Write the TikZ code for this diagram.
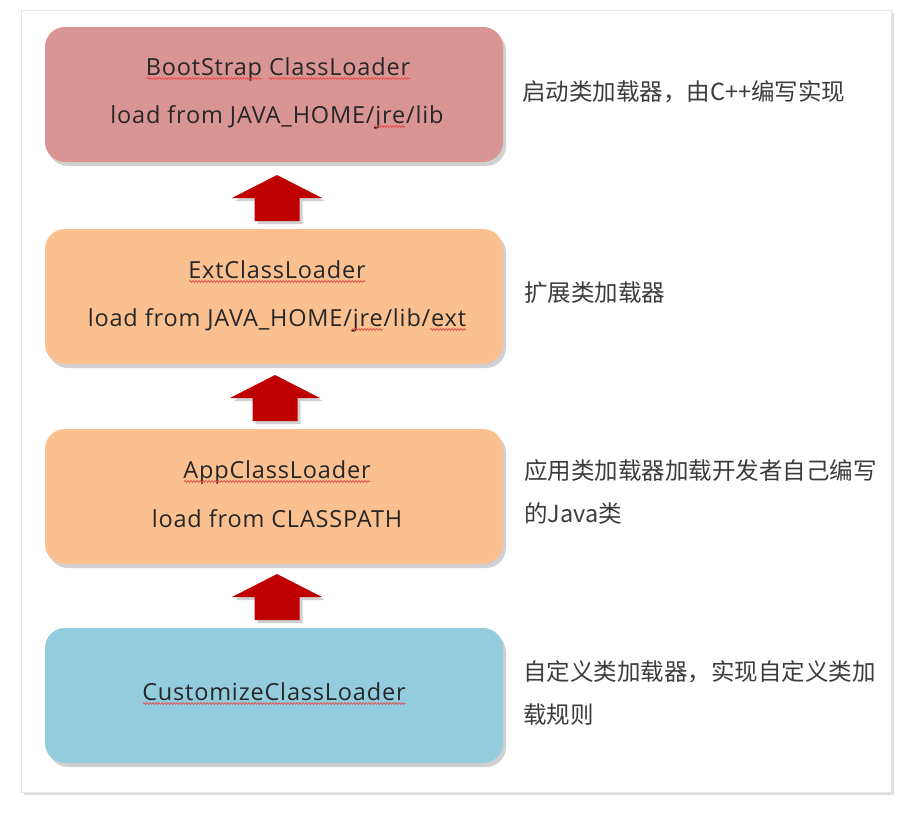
\documentclass[tikz,border=0pt]{standalone}
\usepackage{fontspec}
\setmainfont{Noto Sans CJK SC}
\newfontfamily\latinfam[LetterSpace=3.5]{Open Sans}
\newcommand\boxfont{\latinfam\fontsize{23.5}{28}\selectfont}
\usetikzlibrary{shadows,decorations.pathmorphing,calc}
\definecolor{bootcol}{HTML}{D99594}
\definecolor{peach}{HTML}{FAC090}
\definecolor{sky}{HTML}{93CDDD}
\definecolor{arrowred}{HTML}{C00000}
\definecolor{txt}{HTML}{262626}
\definecolor{wavycol}{HTML}{E84848}
\newcommand\wavy[3]{%
  \node[measure] (wvs) at (#1.base west) {\phantom{#2}};
  \node[measure] (wve) at (#1.base west) {\phantom{#2#3}};
  \draw[wavyline] ([yshift=-3.5pt]wvs.base east) -- ([yshift=-3.5pt]wve.base east);}
\tikzset{
  loaderbox/.style={rounded corners=20pt,minimum width=458pt,minimum height=135pt,inner sep=0pt,
    drop shadow={shadow xshift=3pt,shadow yshift=-4pt,opacity=0.3,fill=black!60}},
  boxtext/.style={anchor=base,inner sep=0pt,text=txt,font=\boxfont},
  measure/.style={anchor=base west,inner sep=0pt,outer sep=0pt,font=\boxfont},
  wavyline/.style={draw=wavycol,line width=0.7pt,decorate,decoration={snake,amplitude=0.9pt,segment length=3pt}},
  note/.style={anchor=west,align=left,inner sep=0pt,text=txt!90,font=\fontsize{23.5}{43}\selectfont},
  blockarrow/.style={fill=arrowred,drop shadow={shadow xshift=3pt,shadow yshift=-3pt,opacity=0.3,fill=black!60}},
  pics/uparrow/.style={code={\fill[blockarrow](-22.5,0)--(-22.5,-23)--(-45,-23)--(0,-46)--(45,-23)--(22.5,-23)--(22.5,0)--cycle;}}
}
\begin{document}
\begin{tikzpicture}[x=1pt,y=-1pt]
\useasboundingbox (0,0) rectangle (913,814);
\fill[white] (0,0) rectangle (913,814);
\node[draw=black!10,fill=white,minimum width=870pt,minimum height=782pt,inner sep=0pt,
  drop shadow={shadow xshift=3pt,shadow yshift=-3pt,opacity=0.25,fill=black!50}] (frame) at (456,401) {};
% boxes
\node[loaderbox,fill=bootcol] (boot) at (274,94.5) {};
\node[loaderbox,fill=peach] (ext) at (274,296.5) {};
\node[loaderbox,fill=peach] (app) at (274,496.5) {};
\node[loaderbox,fill=sky] (cust) at (274,695.5) {};
% box texts
\node[boxtext] (boot1) at (278,75) {BootStrap ClassLoader};
\node[boxtext] (boot2) at (277,123) {load from JAVA\_HOME/jre/lib};
\node[boxtext] (ext1) at (277,278) {ExtClassLoader};
\node[boxtext] (ext2) at (277,326) {load from JAVA\_HOME/jre/lib/ext};
\node[boxtext] (app1) at (277,478) {AppClassLoader};
\node[boxtext] (app2) at (277,527) {load from CLASSPATH};
\node[boxtext] (cust1) at (274,700) {CustomizeClassLoader};
\wavy{boot1}{}{BootStrap}
\wavy{boot1}{BootStrap }{ClassLoader}
\wavy{boot2}{load from JAVA\_HOME/}{jre}
\wavy{ext1}{}{ExtClassLoader}
\wavy{ext2}{load from JAVA\_HOME/}{jre}
\wavy{ext2}{load from JAVA\_HOME/jre/lib/}{ext}
\wavy{app1}{}{AppClassLoader}
\wavy{cust1}{}{CustomizeClassLoader}
% arrows
\pic at (277,221) {uparrow};
\pic at (275,421) {uparrow};
\pic at (277,620) {uparrow};
% notes
\node[note] (n1) at (522,92) {启动类加载器，由C++编写实现};
\node[note] (n2) at (524,293) {扩展类加载器};
\node[note] (n3) at (524,491.5) {应用类加载器加载开发者自己编写\\的Java类};
\node[note] (n4) at (523,693.5) {自定义类加载器，实现自定义类加\\载规则};
\end{tikzpicture}
\end{document}
